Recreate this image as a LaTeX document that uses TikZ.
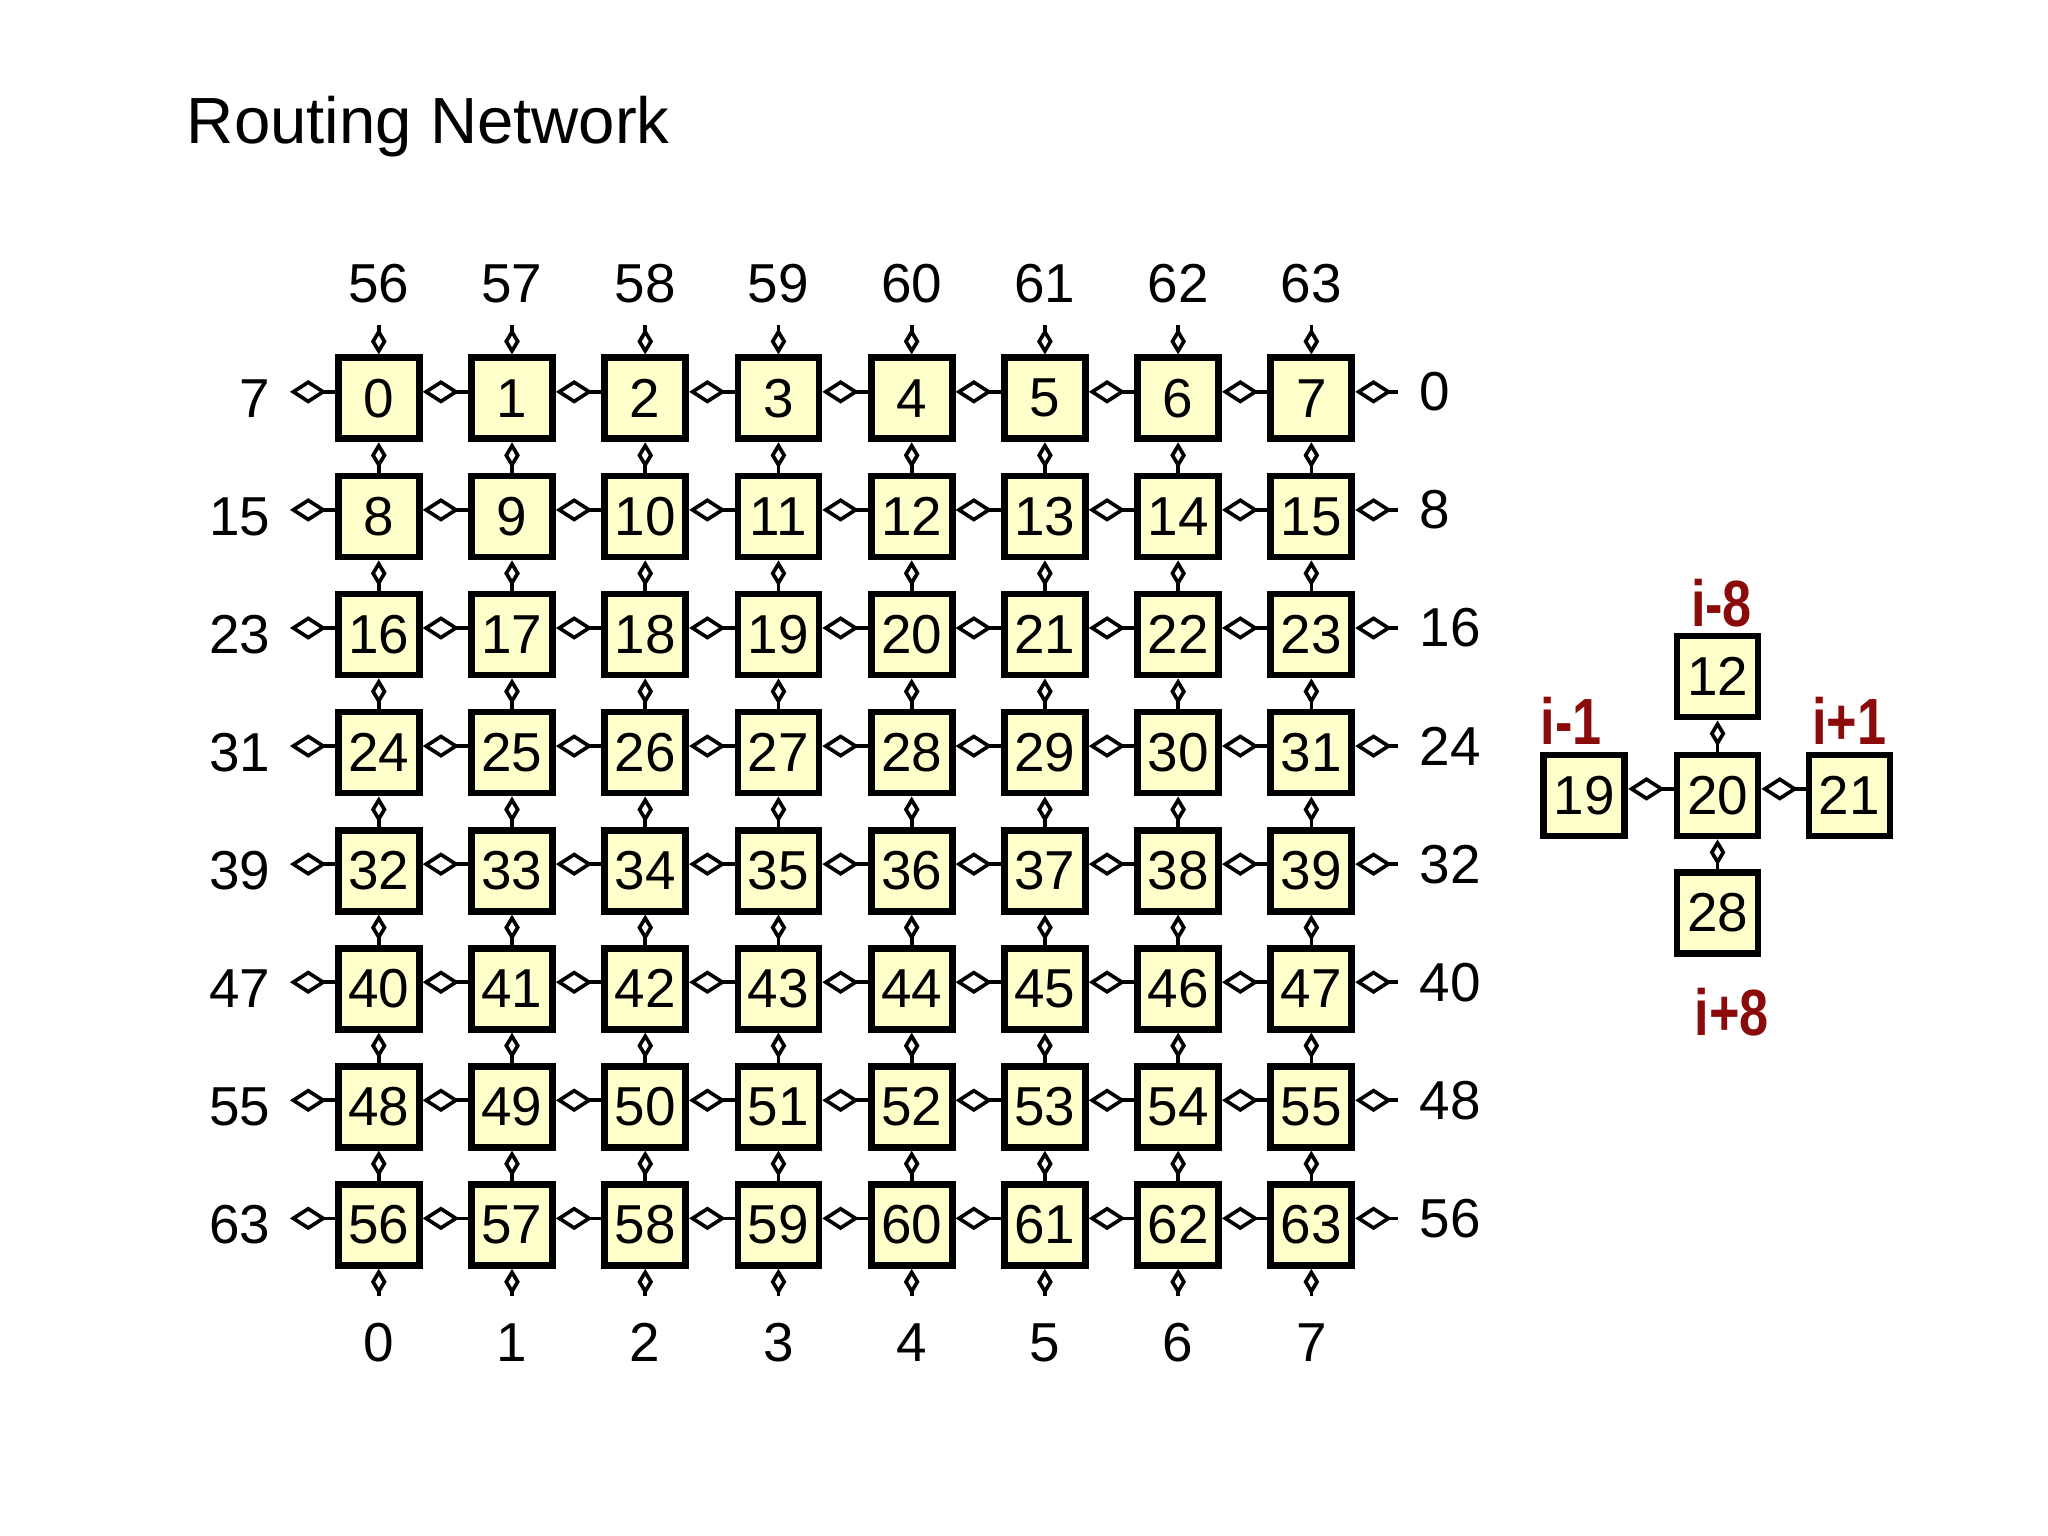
\documentclass[tikz,border=0pt]{standalone}
\usepackage{fontspec}
\setmainfont{Liberation Sans}
\usetikzlibrary{arrows.meta}
\definecolor{boxfill}{HTML}{FFFFCC}
\definecolor{dred}{HTML}{8B0A0A}
\begin{document}
\begin{tikzpicture}[x=0.5pt,y=-0.5pt,
  cell/.style={draw,line width=2.6pt,fill=boxfill,minimum size=31pt,inner sep=0pt,font=\fontsize{21}{21}\selectfont},
  lab/.style={font=\fontsize{21}{21}\selectfont},
  rlab/.style={font=\bfseries\fontsize{25}{25}\selectfont,text=dred,xscale=0.8},
  hc/.style={line width=1.4pt,-{Diamond[open,length=14pt,width=9pt,line width=1.4pt]}},
  vc/.style={line width=1.4pt,-{Diamond[open,length=10pt,width=6pt,line width=1.4pt]}}]
\useasboundingbox (0,0) rectangle (1568,1176);
\node[anchor=west,font=\fontsize{25}{25}\selectfont] (title) at (136,97) {Routing Network};
\foreach \r in {0,...,7}{
  \foreach \c in {0,...,7}{
    \pgfmathtruncatemacro{\n}{8*\r+\c}
    \node[cell] (b\n) at ({290+102*\c},{305+90.4*\r}) {\n};
  }
}
\foreach \r in {0,...,7}{
  \pgfmathtruncatemacro{\a}{8*\r}
  \pgfmathtruncatemacro{\z}{8*\r+7}
  \pgfmathtruncatemacro{\ll}{8*\r+7}
  \pgfmathtruncatemacro{\rl}{8*\r}
  \node[lab,anchor=east] (L\r) at (214,{305+90.4*\r}) {\ll};
  \node[lab,anchor=west] (R\r) at (1080,{300+90.4*\r}) {\rl};
  \coordinate (cl\r) at (222,{300+90.4*\r});
  \coordinate (cr\r) at (1070,{300+90.4*\r});
  \draw[hc] (b\a.west|-cl\r) -- (cl\r);
  \draw[hc] (cr\r) -- (b\z.east|-cr\r);
  \foreach \c in {0,...,6}{
    \pgfmathtruncatemacro{\n}{8*\r+\c}
    \pgfmathtruncatemacro{\m}{8*\r+\c+1}
    \draw[hc] ([yshift=2.5pt]b\m.west) -- ([yshift=2.5pt]b\n.east);
  }
}
\foreach \c in {0,...,7}{
  \pgfmathtruncatemacro{\tl}{56+\c}
  \pgfmathtruncatemacro{\bb}{56+\c}
  \node[lab] (T\c) at ({290+102*\c},217) {\tl};
  \node[lab] (B\c) at ({290+102*\c},1028) {\c};
  \coordinate (ct\c) at ({290+102*\c},249);
  \coordinate (cb\c) at ({290+102*\c},992);
  \draw[vc] (ct\c) -- (b\c.north);
  \draw[vc] (cb\c) -- (b\bb.south);
  \foreach \r in {0,...,6}{
    \pgfmathtruncatemacro{\n}{8*\r+\c}
    \pgfmathtruncatemacro{\m}{8*\r+\c+8}
    \draw[vc] (b\m.north) -- (b\n.south);
  }
}
% side example
\node[cell] (s12) at (1315,518) {12};
\node[cell] (s19) at (1213,609) {19};
\node[cell] (s20) at (1315,609) {20};
\node[cell] (s21) at (1416,609) {21};
\node[cell] (s28) at (1315,699) {28};
\draw[vc] (s20.north) -- (s12.south);
\draw[vc] (s28.north) -- (s20.south);
\draw[hc] ([yshift=2.5pt]s20.west) -- ([yshift=2.5pt]s19.east);
\draw[hc] ([yshift=2.5pt]s21.west) -- ([yshift=2.5pt]s20.east);
\node[rlab] (li8) at (1318,462) {i-8};
\node[rlab] (li1) at (1203,552) {i-1};
\node[rlab] (lp1) at (1416,552) {i+1};
\node[rlab] (lp8) at (1326,775) {i+8};
\end{tikzpicture}
\end{document}
